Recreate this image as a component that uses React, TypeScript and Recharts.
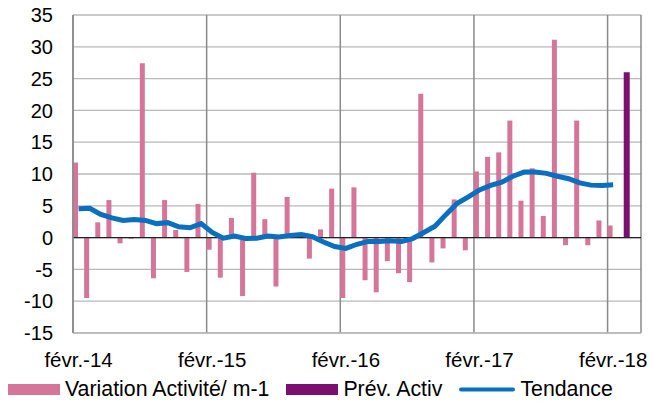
import React from "react";
import {
  ComposedChart,
  Bar,
  Line,
  XAxis,
  YAxis,
  CartesianGrid,
  ReferenceLine,
  Legend,
} from "recharts";

// mois de févr.-14 à mars-18 (une bande vide en avr.-18)
const moisNoms = ["janv.", "févr.", "mars", "avr.", "mai", "juin", "juil.", "août", "sept.", "oct.", "nov.", "déc."];
const nbMois = 50;
const mois: string[] = Array.from({ length: nbMois }, (_, i) => {
  const m = (1 + i) % 12;
  const a = 14 + Math.floor((1 + i) / 12);
  return `${moisNoms[m]}-${a}`;
});

const variation: (number | null)[] = [
  11.8, -9.5, 2.4, 5.9, -0.9, -0.2, 27.4, -6.4, 5.9, 1.2, -5.4, 5.3,
  -1.9, -6.3, 3.1, -9.2, 10.2, 2.9, -7.7, 6.4, 0.2, -3.3, 1.3, 7.7,
  -9.5, 7.9, -6.7, -8.6, -3.7, -5.6, -7.0, 22.6, -3.9, -1.7, 6.0, -2.0,
  10.4, 12.7, 13.4, 18.4, 5.8, 10.9, 3.4, 31.1, -1.2, 18.4, -1.2, 2.7,
  1.9, null,
];

const prevision: (number | null)[] = [
  ...Array(49).fill(null),
  26.0,
];

const tendance: (number | null)[] = [
  4.55, 4.6, 3.65, 3.1, 2.7, 2.85, 2.7, 2.2, 2.35, 1.7, 1.55, 2.2,
  0.8, -0.1, 0.25, -0.15, -0.1, 0.25, 0.1, 0.35, 0.5, 0.15, -0.7, -1.4,
  -1.7, -1.05, -0.6, -0.6, -0.5, -0.6, -0.15, 0.8, 1.8, 3.65, 5.4, 6.4,
  7.5, 8.2, 8.7, 9.65, 10.3, 10.3, 10.1, 9.65, 9.25, 8.6, 8.25, 8.2,
  8.3, null,
];

const series = ["Variation Activité/ m-1", "Prév. Activ", "Tendance"];
const etiquettes = ["févr.-14", "févr.-15", "févr.-16", "févr.-17", "févr.-18"];
const yTicks = [-15, -10, -5, 0, 5, 10, 15, 20, 25, 30, 35];

const data = mois.map((m, i) => ({
  x: i + 0.5,
  mois: m,
  variation: variation[i],
  prevision: prevision[i],
  tendance: tendance[i],
}));

const labelTicks = etiquettes.map((e) => mois.indexOf(e) + 0.5);
const gridTicks = etiquettes.map((e) => mois.indexOf(e));

const font = "'Liberation Sans', Arial, sans-serif";

const renderLegend = (props: any) => {
  const payload = [...(props.payload || [])].sort(
    (a: any, b: any) => series.indexOf(a.value) - series.indexOf(b.value)
  );
  return (
    <div
      style={{
        display: "flex",
        alignItems: "center",
        height: 24,
        paddingLeft: 8,
        fontFamily: font,
        fontSize: 21.3,
        color: "#000",
        whiteSpace: "nowrap",
      }}
    >
      {payload.map((p: any) => (
        <div key={p.value} style={{ display: "flex", alignItems: "center", marginRight: 17 }}>
          {p.type === "line" ? (
            <svg width={56} height={11} style={{ marginRight: 5 }}>
              <line x1={2} y1={5.5} x2={54} y2={5.5} stroke={p.color} strokeWidth={4} strokeLinecap="round" />
            </svg>
          ) : (
            <svg width={52} height={11} style={{ marginRight: 5 }}>
              <rect x={0} y={0} width={52} height={11} fill={p.color} />
            </svg>
          )}
          <span>{p.value}</span>
        </div>
      ))}
    </div>
  );
};

const App: React.FC = () => {
  return (
    <div style={{ position: "absolute", left: 0, top: 0, background: "#fff" }}>
      <ComposedChart
        width={651}
        height={401}
        data={data}
        margin={{ top: 15, right: 10, left: 0, bottom: 0 }}
        barGap={0}
      >
        <CartesianGrid xAxisId="grid" stroke="#b8b8b8" strokeWidth={1.3} horizontal vertical={false} />
        <XAxis
          xAxisId="grid"
          type="number"
          dataKey="x"
          domain={[0, 51]}
          allowDataOverflow
          ticks={gridTicks}
          hide
        />
        <CartesianGrid xAxisId="grid" stroke="#8a8a8a" strokeWidth={1.5} horizontal={false} vertical />
        <XAxis
          type="number"
          dataKey="x"
          domain={[0, 51]}
          allowDataOverflow
          ticks={labelTicks}
          interval={0}
          tickFormatter={(v: number) => mois[Math.floor(v)]}
          tickLine={false}
          tickSize={0}
          tickMargin={19}
          axisLine={{ stroke: "#b8b8b8", strokeWidth: 1.3 }}
          height={44}
          tick={{ fill: "#000", fontSize: 20.5, fontFamily: font }}
        />
        <YAxis
          domain={[-15, 35]}
          ticks={yTicks}
          interval={0}
          tickLine={false}
          tickSize={0}
          tickMargin={20}
          width={73}
          axisLine={{ stroke: "#8a8a8a", strokeWidth: 1.5 }}
          tick={{ fill: "#000", fontSize: 20, fontFamily: font }}
        />
        <Legend verticalAlign="bottom" align="left" height={24} content={renderLegend} wrapperStyle={{ left: 0, bottom: 0, width: 651 }} />
        <Bar dataKey="variation" name={series[0]} fill="#d5759a" barSize={5} isAnimationActive={false} />
        <Bar dataKey="prevision" name={series[1]} fill="#7b0f6f" barSize={6} isAnimationActive={false} />
        <ReferenceLine y={0} stroke="#222" strokeWidth={1.2} />
        <Line
          dataKey="tendance"
          name={series[2]}
          type="linear"
          stroke="#0a6fc0"
          strokeWidth={5}
          dot={false}
          legendType="line"
          isAnimationActive={false}
        />
      </ComposedChart>
    </div>
  );
};

export default App;
